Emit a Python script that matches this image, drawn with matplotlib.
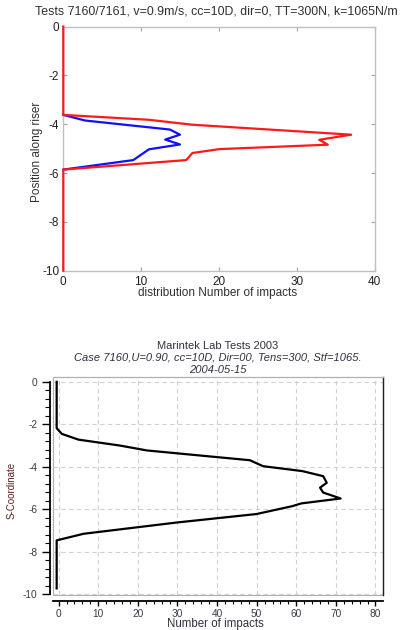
import matplotlib
matplotlib.use("Agg")
import matplotlib.pyplot as plt
from matplotlib.patches import Rectangle
from matplotlib.ticker import MultipleLocator

plt.rcParams['font.family'] = ['Liberation Sans', 'DejaVu Sans']
plt.rcParams['axes.unicode_minus'] = False

# --- top panel: distribution of impacts along the riser ---
pos_red = [0, -3.62, -3.82, -4.02, -4.43, -4.64, -4.84, -5.02, -5.18, -5.47, -5.86, -10]
imp_red = [0, 0, 11.0, 16.5, 37.0, 32.9, 34.0, 20.1, 16.6, 15.8, 0, 0]

pos_blue = [-3.62, -3.85, -4.22, -4.43, -4.63, -4.83, -5.03, -5.47, -5.86]
imp_blue = [0, 2.8, 13.7, 15.0, 13.1, 15.0, 11.0, 9.0, 0]

# --- bottom panel: Marintek case 7160 ---
pos_blk = [0, -2.18, -2.45, -2.72, -3.0, -3.23, -3.69, -3.97, -4.2, -4.44, -4.75,
           -4.98, -5.21, -5.49, -5.72, -5.85, -6.22, -6.62, -7.15, -7.46, -9.72]
imp_blk = [-0.5, -0.5, 0.8, 5.0, 15.5, 22.3, 48.3, 51.6, 61.5, 66.8, 67.7,
           66.0, 66.8, 71.2, 61.3, 59.0, 50.0, 29.8, 6.3, -0.5, -0.5]

top_title = "Tests 7160/7161, v=0.9m/s, cc=10D, dir=0, TT=300N, k=1065N/m"
bot_title = ["Marintek Lab Tests 2003",
             "Case 7160,U=0.90, cc=10D, Dir=00, Tens=300, Stf=1065.",
             "2004-05-15"]

W, H = 401, 630
fig = plt.figure(figsize=(W / 100, H / 100), dpi=100)


def box(l, t, r, b):
    return [l / W, 1 - b / H, (r - l) / W, (b - t) / H]


# ---------------- top ----------------
ax1 = fig.add_axes(box(63.3, 26.5, 374.5, 270.7))
ax1.plot(imp_blue, pos_blue, color='#1010ff', lw=1.6, clip_on=False, zorder=3)
ax1.plot(imp_red, pos_red, color='#ff1a1a', lw=1.6, clip_on=False, zorder=4)
ax1.set_xlim(0, 40)
ax1.set_ylim(-10, 0)
ax1.set_xticks([0, 10, 20, 30, 40])
ax1.set_yticks([0, -2, -4, -6, -8, -10])
for s in ax1.spines.values():
    s.set_color('#c0c0c0')
    s.set_linewidth(1.0)
ax1.tick_params(direction='in', length=3, width=0.8, color='#a0a0a0',
                top=True, right=True, labelsize=8.5, labelcolor='#202020', pad=3)
ax1.tick_params(axis='x', pad=4)
fig.text(216 / W, 1 - 12 / H, top_title, ha='center', va='center',
         fontsize=8.9, color='#303030')
fig.text(218 / W, 1 - 293 / H, "distribution Number of impacts", ha='center',
         va='center', fontsize=8.5, color='#303030')
fig.text(37 / W, 1 - 152 / H, "Position along riser", ha='center', va='center',
         rotation=90, fontsize=8.5, color='#303030')

# ---------------- bottom ----------------
ax2 = fig.add_axes(box(52.7, 376.7, 383, 595))
ax2.plot(imp_blk, pos_blk, color='black', lw=1.6, zorder=3)
ax2.set_xlim(-1.5, 81.9)
ax2.set_ylim(-10.03, 0.24)
ax2.set_xticks(range(0, 81, 10))
ax2.set_yticks([0, -2, -4, -6, -8, -10])
ax2.xaxis.set_minor_locator(MultipleLocator(2))
ax2.yaxis.set_minor_locator(MultipleLocator(0.4))
ax2.grid(True, which='major', color='#d0d0d0', linestyle=(0, (4, 3)), lw=0.8)

ax2.spines['top'].set_color('#b0b0b0')
ax2.spines['top'].set_linewidth(0.8)
ax2.spines['right'].set_color('#202020')
ax2.spines['right'].set_linewidth(1.0)
ax2.spines['left'].set_position(('outward', 2))
ax2.spines['left'].set_bounds(-10, 0)
ax2.spines['left'].set_linewidth(1.3)
ax2.spines['bottom'].set_position(('outward', 4.3))
ax2.spines['bottom'].set_linewidth(1.3)
ax2.add_patch(Rectangle((0, 0), 1, 1, transform=ax2.transAxes, fill=False,
                        edgecolor='#b0b0b0', lw=0.8, clip_on=False, zorder=1))

ax2.tick_params(axis='y', which='major', length=6, width=1.0, pad=3)
ax2.tick_params(axis='y', which='minor', length=3.5, width=0.8)
ax2.tick_params(axis='x', which='major', length=3.5, width=1.0, pad=2)
ax2.tick_params(axis='x', which='minor', length=2, width=0.8)
ax2.tick_params(labelsize=7.3, labelcolor='#3a3a4a')

for i, line in enumerate(bot_title):
    fig.text(218 / W, 1 - (346 + 12 * i) / H, line, ha='center', va='center',
             fontsize=8, color='#303040', style='normal' if i == 0 else 'italic')
fig.text(215 / W, 1 - 624 / H, "Number of impacts", ha='center', va='center',
         fontsize=8.3, color='#303040')
fig.text(12 / W, 1 - 490 / H, "S-Coordinate", ha='center', va='center',
         rotation=90, fontsize=7, color='#5a2020',
         family=['Liberation Sans Narrow', 'Liberation Sans', 'DejaVu Sans'])

fig.savefig("out.png", dpi=100)
